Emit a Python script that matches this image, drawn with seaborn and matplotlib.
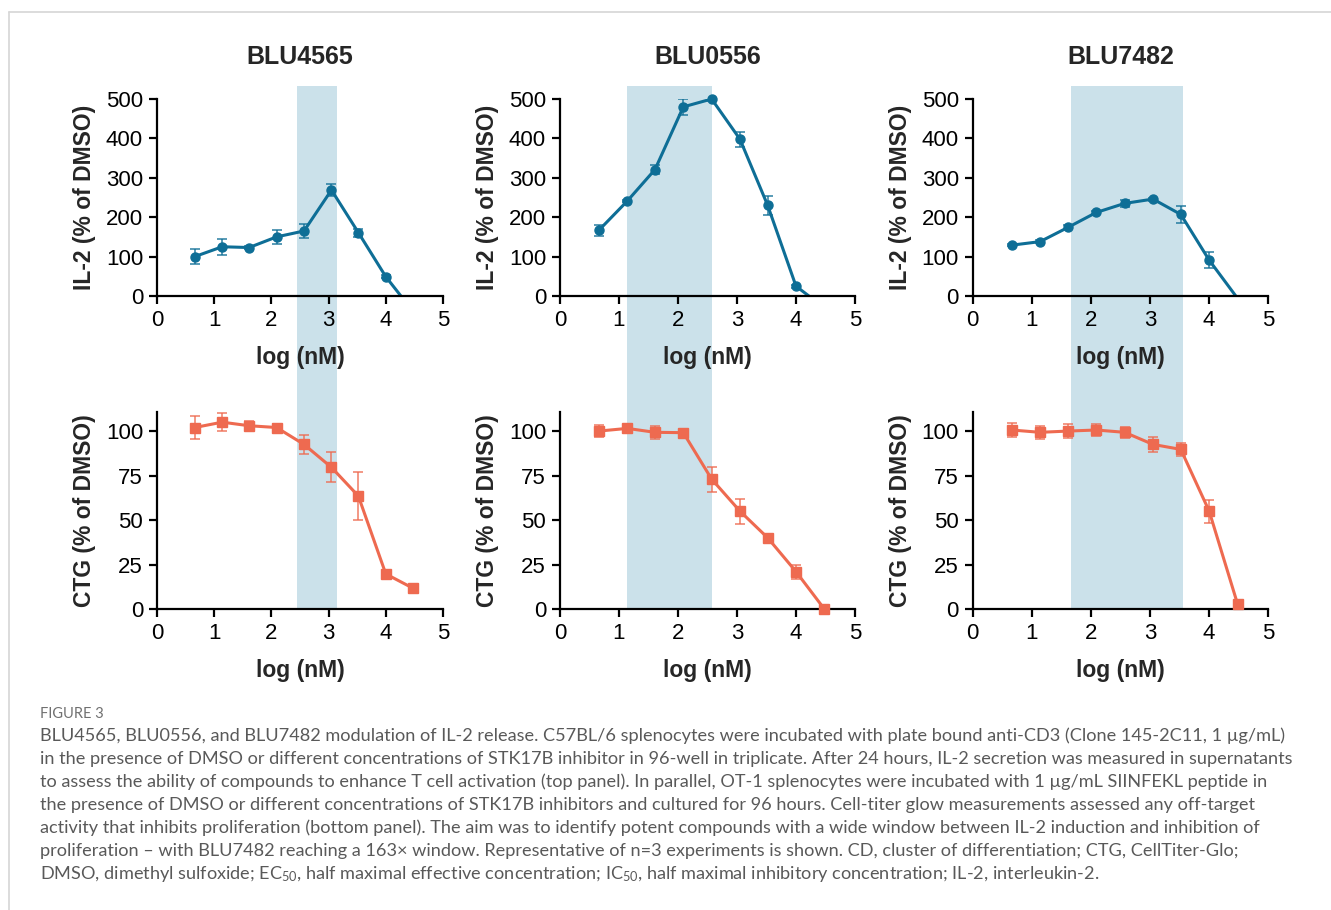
import numpy as np
import pandas as pd
import seaborn as sns
import matplotlib.pyplot as plt
from matplotlib import transforms
from matplotlib.patches import Rectangle
from matplotlib.lines import Line2D

sns.set_style('ticks')
plt.rcParams['font.family'] = ['Liberation Sans', 'DejaVu Sans']
plt.rcParams['mathtext.fontset'] = 'custom'
plt.rcParams['mathtext.rm'] = 'Lato'
plt.rcParams['mathtext.it'] = 'Lato:italic'
plt.rcParams['mathtext.bf'] = 'Lato:bold'

# Data
compounds = ['BLU4565', 'BLU0556', 'BLU7482']
log_nM = [0.66, 1.14, 1.61, 2.09, 2.57, 3.05, 3.52, 4.00, 4.48]

il2_blu4565 = [100, 125, 123, 150, 165, 269, 161, 49, -40]
il2_blu4565_err = [20, 20, 4, 17, 18, 15, 10, 4, 0]
il2_blu0556 = [167, 241, 321, 480, 500, 398, 230, 25, -30]
il2_blu0556_err = [14, 3, 12, 20, 5, 19, 25, 4, 0]
il2_blu7482 = [129, 138, 174, 212, 235, 246, 207, 91, -6]
il2_blu7482_err = [3, 4, 5, 5, 8, 4, 22, 21, 0]

ctg_blu4565 = [102, 105, 103, 102, 92.5, 79.6, 63.5, 19.7, 11.6]
ctg_blu4565_err = [6.5, 5, 2.5, 2, 5.3, 8.4, 13.6, 1, 0]
ctg_blu0556 = [100, 101.5, 99.3, 99.1, 73, 55, 40, 21, 0]
ctg_blu0556_err = [3.3, 0.5, 3.5, 1.5, 7, 7, 0.5, 4, 0]
ctg_blu7482 = [100.6, 99.3, 100, 100.6, 99.3, 92.5, 89.7, 55, 2.8]
ctg_blu7482_err = [4.2, 3.5, 4, 3.5, 3, 4, 3.5, 6.5, 0]

# window between IL-2 induction and proliferation inhibition (log nM)
window_lo = [2.45, 1.13, 1.66]
window_hi = [3.15, 2.58, 3.55]

il2_all = [il2_blu4565, il2_blu0556, il2_blu7482]
il2_err_all = [il2_blu4565_err, il2_blu0556_err, il2_blu7482_err]
ctg_all = [ctg_blu4565, ctg_blu0556, ctg_blu7482]
ctg_err_all = [ctg_blu4565_err, ctg_blu0556_err, ctg_blu7482_err]

caption = [
    "BLU4565, BLU0556, and BLU7482 modulation of IL-2 release. C57BL/6 splenocytes were incubated with plate bound anti-CD3 (Clone 145-2C11, 1 µg/mL)",
    "in the presence of DMSO or different concentrations of STK17B inhibitor in 96-well in triplicate. After 24 hours, IL-2 secretion was measured in supernatants",
    "to assess the ability of compounds to enhance T cell activation (top panel). In parallel, OT-1 splenocytes were incubated with 1 µg/mL SIINFEKL peptide in",
    "the presence of DMSO or different concentrations of STK17B inhibitors and cultured for 96 hours. Cell-titer glow measurements assessed any off-target",
    "activity that inhibits proliferation (bottom panel). The aim was to identify potent compounds with a wide window between IL-2 induction and inhibition of",
    "proliferation \u2013 with BLU7482 reaching a 163× window. Representative of n=3 experiments is shown. CD, cluster of differentiation; CTG, CellTiter-Glo;",
    "DMSO, dimethyl sulfoxide; EC$_{50}$, half maximal effective concentration; IC$_{50}$, half maximal inhibitory concentration; IL-2, interleukin-2.",
]

blue = '#0e6e96'
orange = '#ee6a50'
span_color = '#cbe1ea'

W, H = 1331, 910
fig = plt.figure(figsize=(W / 100, H / 100), dpi=100, facecolor='white')

col_left = [157, 560, 972.7]
col_width = [286, 295, 295.6]
top_row = (99, 296)
bot_row = (411.5, 609)


def px_axes(left, width, top, bottom):
    return fig.add_axes([left / W, 1 - bottom / H, width / W, (bottom - top) / H])


def style_axes(ax, ylim, yticks, ylabel):
    ax.set_facecolor('none')
    ax.set_xlim(0, 5)
    ax.set_ylim(*ylim)
    ax.set_xticks(range(6))
    ax.set_yticks(yticks)
    sns.despine(ax=ax)
    for s in ['left', 'bottom']:
        ax.spines[s].set_linewidth(1.6)
        ax.spines[s].set_color('black')
    ax.tick_params(direction='out', length=6, width=1.6, labelsize=16,
                   colors='black', pad=4)
    ax.set_xlabel('log (nM)', fontsize=16.5, fontweight='bold', labelpad=11)
    ax.set_ylabel(ylabel, fontsize=16.5, fontweight='bold', labelpad=7)


def draw_series(ax, y, err, color, marker, ms, ylim):
    x = np.array(log_nM)
    y = np.array(y, dtype=float)
    err = np.array(err, dtype=float)
    df = pd.DataFrame({'x': x, 'y': y})
    sns.lineplot(data=df, x='x', y='y', ax=ax, color=color, lw=2.2,
                 sort=False, zorder=2)
    inside = (y >= ylim[0]) & (y <= ylim[1])
    has_err = inside & (err > 0.8)
    ax.errorbar(x[has_err], y[has_err], yerr=err[has_err], fmt='none',
                ecolor=color, alpha=0.75, elinewidth=1.3, capsize=3.5,
                capthick=1.3, zorder=3)
    ax.plot(x[inside], y[inside], ls='none', marker=marker, ms=ms,
            color=color, mec=color, clip_on=False, zorder=4)
    ax.set_xlabel('')
    ax.set_ylabel('')


for i, name in enumerate(compounds):
    ax_t = px_axes(col_left[i], col_width[i], *top_row)
    ax_b = px_axes(col_left[i], col_width[i], *bot_row)

    draw_series(ax_t, il2_all[i], il2_err_all[i], blue, 'o', 6.5, (0, 500))
    draw_series(ax_b, ctg_all[i], ctg_err_all[i], orange, 's', 6.5, (0, 111))

    style_axes(ax_t, (0, 500), [0, 100, 200, 300, 400, 500], 'IL-2 (% of DMSO)')
    style_axes(ax_b, (0, 111), [0, 25, 50, 75, 100], 'CTG (% of DMSO)')

    ax_t.text(0.5, 1 + (top_row[0] - 57) / (top_row[1] - top_row[0]), name,
              transform=ax_t.transAxes, ha='center', va='center',
              fontsize=18, fontweight='bold')

    # shaded window spanning both rows
    trans = transforms.blended_transform_factory(ax_t.transData, fig.transFigure)
    y0 = 1 - bot_row[1] / H
    y1 = 1 - 86 / H
    fig.add_artist(Rectangle((window_lo[i], y0), window_hi[i] - window_lo[i],
                             y1 - y0, transform=trans, facecolor=span_color,
                             edgecolor='none', zorder=-1))

# page frame
fig.add_artist(Line2D([9 / W, 9 / W], [0, 1 - 12 / H], color='#d6d6d6', lw=1.2))
fig.add_artist(Line2D([9 / W, 1], [1 - 12 / H, 1 - 12 / H], color='#d6d6d6', lw=1.2))

fig.text(40 / W, 1 - 714 / H, 'FIGURE 3', fontsize=10.5, color='#707070',
         family='Lato', va='center')
for k, line in enumerate(caption):
    fig.text(40 / W, 1 - (736 + 23 * k) / H, line, fontsize=13.1, color='#595959',
             family='Lato', va='center')

fig.savefig('out.png', dpi=100, facecolor='white')
